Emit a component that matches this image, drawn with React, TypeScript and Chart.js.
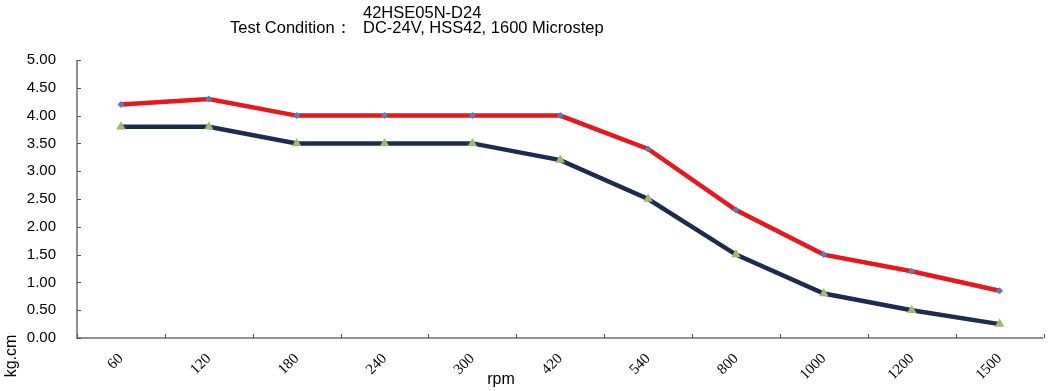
import React, { useEffect, useRef } from "react";
import { Chart, registerables } from "chart.js";

Chart.register(...registerables);

const categories = ["60", "120", "180", "240", "300", "420", "540", "800", "1000", "1200", "1500"];
const upperSeries = [4.2, 4.3, 4.0, 4.0, 4.0, 4.0, 3.4, 2.3, 1.5, 1.2, 0.85];
const lowerSeries = [3.8, 3.8, 3.5, 3.5, 3.5, 3.2, 2.5, 1.5, 0.8, 0.5, 0.25];
const titleLine1 = "42HSE05N-D24";
const titleLabel = "Test Condition：";
const titleLine2 = "DC-24V, HSS42, 1600 Microstep";
const xTitle = "rpm";
const yTitle = "kg.cm";

const SANS = "'Liberation Sans', Arial, sans-serif";
const SERIF = "'Liberation Serif', 'Times New Roman', serif";

const decorPlugin = {
  id: "decor",
  afterDraw(chart: any) {
    const ctx = chart.ctx;
    const ys = chart.scales.y;
    const area = chart.chartArea;
    ctx.save();
    // axes lines
    ctx.strokeStyle = "#6e6e6e";
    ctx.lineWidth = 1.5;
    ctx.beginPath();
    ctx.moveTo(area.left, area.top);
    ctx.lineTo(area.left, area.bottom);
    ctx.lineTo(area.right, area.bottom);
    ctx.stroke();
    ctx.lineWidth = 1;
    ctx.strokeStyle = "#505050";
    // y inner ticks
    ys.ticks.forEach((_t: any, i: number) => {
      const y = Math.round(ys.getPixelForTick(i)) + 0.5;
      ctx.beginPath();
      ctx.moveTo(area.left, y);
      ctx.lineTo(area.left + 4, y);
      ctx.stroke();
    });
    // x inner ticks between categories
    const n = categories.length;
    const w = (area.right - area.left) / n;
    for (let i = 0; i <= n; i++) {
      const x = Math.round(area.left + i * w) + 0.5;
      ctx.beginPath();
      ctx.moveTo(x, area.bottom);
      ctx.lineTo(x, area.bottom - 4);
      ctx.stroke();
    }
    // titles
    ctx.fillStyle = "#000";
    ctx.font = "16.5px " + SANS;
    ctx.textBaseline = "middle";
    ctx.textAlign = "left";
    ctx.fillText(titleLine1, 363, 13);
    ctx.fillText(titleLabel, 230, 28);
    ctx.fillText(titleLine2, 363, 28);
    // x title
    ctx.textAlign = "center";
    ctx.font = "16px " + SANS;
    ctx.fillText(xTitle, 501, 380);
    // y title
    ctx.translate(12, 356);
    ctx.rotate(-Math.PI / 2);
    ctx.fillText(yTitle, 0, 0);
    ctx.restore();
  },
};

export default function App() {
  const ref = useRef<HTMLCanvasElement>(null);
  useEffect(() => {
    const chart = new Chart(ref.current as HTMLCanvasElement, {
      type: "line",
      data: {
        labels: categories,
        datasets: [
          {
            data: upperSeries,
            borderColor: "#e8161d",
            borderWidth: 4.5,
            pointStyle: "rectRot",
            pointRadius: 3.5,
            pointBackgroundColor: "#5b7cb6",
            pointBorderColor: "#5b7cb6",
            pointBorderWidth: 0,
            tension: 0,
          },
          {
            data: lowerSeries,
            borderColor: "#1d2b4f",
            borderWidth: 4.5,
            pointStyle: "triangle",
            pointRadius: 5.5,
            pointBackgroundColor: "#9fb873",
            pointBorderColor: "#9fb873",
            pointBorderWidth: 0,
            tension: 0,
          },
        ],
      },
      options: {
        animation: false,
        responsive: false,
        layout: { padding: { top: 60, right: 4, left: 0, bottom: 0 } },
        plugins: { legend: { display: false }, title: { display: false }, tooltip: { enabled: false } },
        scales: {
          x: {
            offset: true,
            grid: { display: false, drawTicks: false },
            border: { display: false },
            ticks: {
              minRotation: 45,
              maxRotation: 45,
              padding: 12,
              color: "#000",
              font: { family: SERIF, size: 15 },
              autoSkip: false,
            },
            afterFit: (s: any) => {
              s.height = 53;
            },
          },
          y: {
            min: 0,
            max: 5,
            grid: { display: false, drawTicks: false },
            border: { display: false },
            ticks: {
              stepSize: 0.5,
              padding: 21,
              color: "#000",
              font: { family: SANS, size: 15 },
              callback: (v: any) => Number(v).toFixed(2),
            },
            afterFit: (s: any) => {
              s.width = 77;
            },
          },
        },
      },
      plugins: [decorPlugin],
    });
    return () => chart.destroy();
  }, []);
  return (
    <div style={{ position: "fixed", left: 0, top: 0, width: 1049, height: 391, background: "#fff" }}>
      <canvas ref={ref} width={1049} height={391} style={{ display: "block" }} />
    </div>
  );
}
